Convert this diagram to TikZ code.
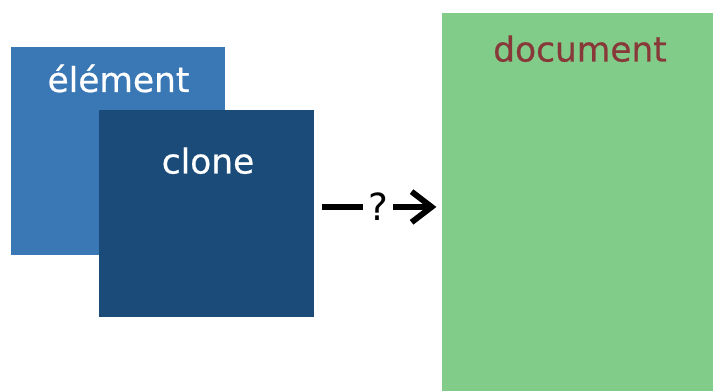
\documentclass[tikz,border=0pt]{standalone}
\usepackage{fontspec}
\usepackage{xcolor}
\usepackage{tikz}
\usetikzlibrary{arrows.meta,positioning}
\newfontfamily\boxfont[FakeBold=0.6]{DejaVu Sans}
\newfontfamily\qfont{DejaVu Sans}

\definecolor{elblue}{RGB}{58,120,181}
\definecolor{clblue}{RGB}{27,75,121}
\definecolor{docgreen}{RGB}{128,204,136}
\definecolor{docred}{RGB}{136,56,56}

\tikzset{
  box/.style={draw=none,minimum width=#1*0.75pt,inner sep=0pt},
  lbl/.style={font=\boxfont\fontsize{25.8}{30}\selectfont,anchor=base,inner sep=0pt},
  conn/.style={line width=4.4pt,-{Straight Barb[length=15pt,width=23pt,line width=4.4pt]}}
}

\begin{document}
\begin{tikzpicture}[x=0.75pt,y=-0.75pt]
  \useasboundingbox (0,0) rectangle (713,391);
  % the three boxes
  \node[box=214,minimum height=208*0.75pt,fill=elblue] (el) at (118,151) {};
  \node[box=215,minimum height=207*0.75pt,fill=clblue] (cl) at (206.5,213.5) {};
  \node[box=271,minimum height=378*0.75pt,fill=docgreen] (doc) at (577.5,202) {};
  % titles
  \node[lbl,white] (eltxt) at (118.5,92) {élément};
  \node[lbl,white] (cltxt) at (208,173.5) {clone};
  \node[lbl,docred] (doctxt) at (580,61.5) {document};
  % clone -> document
  \draw[conn,shorten <=6pt,shorten >=4pt] ([yshift=4.9pt]cl.east) -- ([yshift=4.9pt]cl.east -| doc.west)
    node[midway,fill=white,inner xsep=4pt,inner ysep=0pt,font=\qfont\fontsize{28}{30}\selectfont] (q) {?};
\end{tikzpicture}
\end{document}
